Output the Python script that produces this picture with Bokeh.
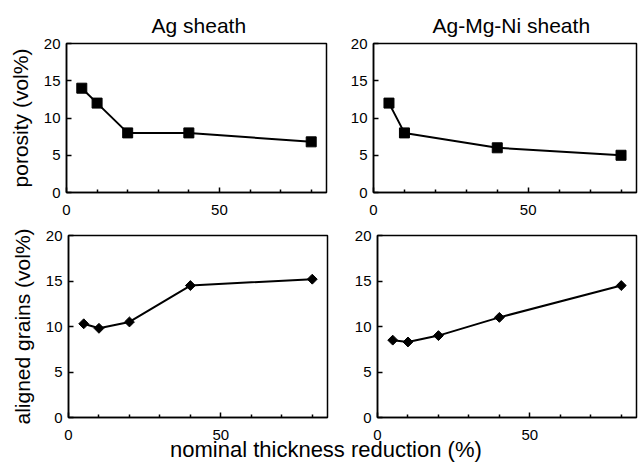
import math
from bokeh.plotting import figure
from bokeh.models import Range1d, FixedTicker, Title, Div
from bokeh.layouts import column, row
from bokeh.embed import file_html
from bokeh.resources import INLINE

FONT = "Liberation Sans"

# ---- data ----
x_ag_por = [5, 10, 20, 40, 80]
por_ag = [14, 12, 8, 8, 6.8]
x_amn_por = [5, 10, 40, 80]
por_amn = [12, 8, 6, 5]
x_ag_al = [5, 10, 20, 40, 80]
al_ag = [10.3, 9.8, 10.5, 14.5, 15.2]
x_amn_al = [5, 10, 20, 40, 80]
al_amn = [8.5, 8.3, 9.0, 11.0, 14.5]

x_major = [0, 50]
x_minor = [10, 20, 30, 40, 60, 70, 80]
y_major = [0, 5, 10, 15, 20]

titles = ["Ag sheath", "Ag-Mg-Ni sheath"]
ylabels = ["porosity (vol%)", "aligned grains (vol%)"]
xlabel = "nominal thickness reduction (%)"


def make_fig(w, h, bl, br, bt, bb, ylabel=None, title=None, title_offset=0):
    p = figure(width=w, height=h, output_backend="svg", toolbar_location=None,
               x_range=Range1d(0, 85), y_range=Range1d(0, 20),
               min_border_left=bl, min_border_right=br,
               min_border_top=bt, min_border_bottom=bb)
    p.background_fill_color = "white"
    p.border_fill_color = "white"
    p.outline_line_color = "black"
    p.outline_line_width = 1.5
    p.xgrid.visible = False
    p.ygrid.visible = False
    p.xaxis.ticker = FixedTicker(ticks=x_major, minor_ticks=x_minor)
    p.yaxis.ticker = FixedTicker(ticks=y_major)
    for ax in (p.xaxis[0], p.yaxis[0]):
        ax.axis_line_color = "black"
        ax.axis_line_width = 1.5
        ax.major_tick_line_color = "black"
        ax.major_tick_line_width = 1.5
        ax.major_tick_in = 5
        ax.major_tick_out = 0
        ax.minor_tick_line_color = "black"
        ax.minor_tick_line_width = 1.5
        ax.minor_tick_in = 3
        ax.minor_tick_out = 0
        ax.major_label_text_font = FONT
        ax.major_label_text_font_size = "15px"
        ax.major_label_text_color = "black"
    p.xaxis.major_label_standoff = 12
    p.yaxis.major_label_standoff = 6
    if ylabel:
        p.yaxis.axis_label = ylabel
        p.yaxis.axis_label_text_font = FONT
        p.yaxis.axis_label_text_font_size = "21px"
        p.yaxis.axis_label_text_font_style = "normal"
        p.yaxis.axis_label_text_color = "black"
        p.yaxis.axis_label_standoff = 9
    if title:
        t = Title(text=title, align="left", offset=title_offset, text_font=FONT,
                  text_font_size="21px", text_font_style="normal",
                  text_color="black", standoff=14)
        p.add_layout(t, "above")
    return p


p1 = make_fig(343, 221, 66, 17, 43, 29, ylabel=ylabels[0], title=titles[0], title_offset=85)
p1.line(x_ag_por, por_ag, line_color="black", line_width=2)
p1.scatter(x_ag_por, por_ag, marker="square", size=10, fill_color="black", line_color="black")

p2 = make_fig(295, 221, 30, 2, 43, 29, title=titles[1], title_offset=59)
p2.line(x_amn_por, por_amn, line_color="black", line_width=2)
p2.scatter(x_amn_por, por_amn, marker="square", size=10, fill_color="black", line_color="black")

p3 = make_fig(343, 225, 68, 16, 14, 29, ylabel=ylabels[1])
p3.line(x_ag_al, al_ag, line_color="black", line_width=2)
p3.scatter(x_ag_al, al_ag, marker="square", angle=math.pi / 4, size=7,
           fill_color="black", line_color="black")

p4 = make_fig(295, 225, 34, 2, 14, 29)
p4.line(x_amn_al, al_amn, line_color="black", line_width=2)
p4.scatter(x_amn_al, al_amn, marker="square", angle=math.pi / 4, size=7,
           fill_color="black", line_color="black")

lbl = Div(text=('<div style="text-align:left;padding-left:170px;font-family:\'Liberation Sans\';'
                'font-size:22px;line-height:22px;color:black;white-space:nowrap;">'
                + xlabel + '</div>'),
          width=638, height=22, margin=(-7, 0, 0, 0))

layout = column(row(p1, p2, spacing=0), row(p3, p4, spacing=0), lbl, spacing=0)

open("out.html", "w").write(file_html(layout, INLINE))
